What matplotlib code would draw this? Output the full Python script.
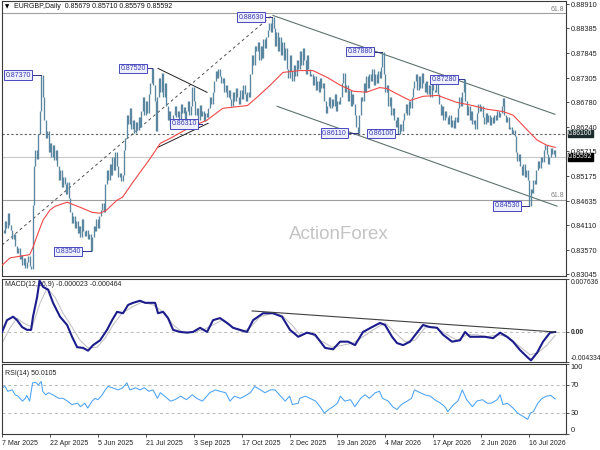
import numpy as np
import matplotlib.pyplot as plt
from matplotlib.transforms import blended_transform_factory

plt.rcParams['font.family'] = ['Liberation Sans', 'DejaVu Sans']
plt.rcParams['axes.unicode_minus'] = False

#### daily closes, in pips above 0.8000 ####
close_pips = [
    400, 395, 420, 405, 438, 412, 400, 380, 392, 365,
    350, 362, 338, 346, 325, 340, 318, 332, 345, 322, 316,
    455, 540, 575, 555, 610, 660, 737,
    690, 640, 600, 615, 570, 590, 560, 585, 552, 575,
    540, 510, 530, 495, 515, 500, 478, 505, 470,
    440, 415, 430, 405, 420, 395, 410, 385, 425, 398, 388,
    400, 380, 392, 354, 385, 410, 398, 425, 405, 430,
    445, 460, 440, 500, 530, 510, 545, 520, 560, 530, 570, 540, 515,
    525, 508, 520, 575, 600, 650, 630, 665,
    620, 640, 612, 635, 618, 645, 625, 660, 690, 650, 680, 655, 695,
    720, 752, 715, 680, 615, 690, 730, 700, 742, 690, 720,
    670, 640, 660, 625, 631,
    650, 670, 645, 660, 640, 675, 655, 668, 642, 660, 680, 650, 670, 712,
    680, 650, 665, 640, 672, 648, 660, 638, 655, 645,
    665, 690, 675, 700, 725, 745, 730, 751, 735, 720,
    730, 700, 715, 690, 705, 685,
    670, 700, 680, 710, 690, 675, 705, 685, 715, 695, 680, 700, 690,
    740, 780, 760, 800, 790, 810, 770, 800, 775, 815, 795, 820,
    835, 850, 830, 863, 840, 800, 830, 790, 820, 780, 810,
    770, 795, 750, 730, 780, 745, 725, 760, 735, 770, 750, 790,
    760, 795, 770, 740, 780, 750, 735,
    740, 715, 735, 705, 725, 700, 730, 710, 720,
    680, 655, 670, 690, 665, 685, 670, 695, 660, 680, 675, 690,
    720, 742, 700, 715, 680, 705, 670, 695, 675, 650, 625, 611,
    650, 690, 680, 720, 700, 735, 710, 740,
    725, 750, 715, 740, 720, 745, 730, 755, 788,
    740, 700, 715, 670, 690, 650, 665,
    640, 625, 645, 610, 630, 615, 640,
    655, 675, 650, 680, 665, 690, 710,
    725, 740, 705, 735, 710, 742, 720,
    700, 725, 695, 715, 690, 720, 705, 700, 722, 695,
    675, 650, 670, 640, 660, 645,
    630, 650, 625, 640, 622, 645, 635,
    665, 690, 670, 700, 728,
    680, 650, 670, 640, 660, 630, 640, 620,
    655, 675, 660, 670,
    645, 630, 655, 635, 650, 628, 645, 632,
    650, 640, 660, 645, 655, 670, 688,
    650, 635, 645, 620, 625, 610, 618, 605,
    570, 550, 565, 540, 520, 545, 515, 530, 510,
    453, 490, 480, 510, 500,
    530, 550, 535, 560, 548, 575, 585, 565, 545, 560,
    578, 565, 575, 559.2]

#### moving average (red), sampled ####
ma_idx = [0, 5.5, 19, 21.3, 24.8, 28.2, 33, 36.5, 44.8, 53.7, 62, 67.5, 72, 79, 83, 90,
          102, 109, 116, 129.5, 141, 152, 169, 175.6, 184.6, 193.5, 205, 214, 224, 233,
          242, 251, 260, 265, 274, 281, 290, 300, 313, 324, 334, 345, 352, 362, 368.5,
          375, 381]
ma_pips = [324, 340, 347, 363, 394, 422, 444, 452, 461, 450, 439, 437, 444, 465, 472, 504,
           556, 589, 600, 624, 639, 665, 671, 689, 715, 743, 747, 747, 732, 715,
           702, 700, 710, 708, 693, 682, 691, 693, 678, 671, 663, 658, 650, 617, 596,
           585, 580]

#### MACD main / signal, units of 1e-4 ####
macd_idx = [0, 3.4, 7.6, 10.3, 13.8, 17.2, 20, 21.3, 24.1, 25.8, 28.2, 31.7, 35.1, 39.9,
            44.8, 48.2, 51.7, 55.8, 59.2, 62.7, 67.5, 72.3, 75.8, 79.2, 83.3, 86.8, 90.2,
            95, 98.5, 101.9, 105.4, 107.4, 110.9, 114.3, 117.8, 122.6, 127.4, 131.5, 136.4,
            141.2, 145.3, 150.1, 155, 159.1, 163.9, 168.7, 172.9, 179.8, 186.6, 192.8,
            198.3, 204, 210, 215.6, 222.5, 228, 232.8, 238.3, 243.1, 248.6, 254.8, 260.3,
            263.8, 268.6, 272, 276.2, 281, 285.8, 289.9, 294.8, 299.6, 303.7, 309.9, 315.4,
            318.9, 322.3, 327.1, 332.6, 338.2, 343, 347.8, 351.9, 356.7, 361.6, 364.3,
            368.5, 372.6, 377.4, 381]
macd_e4 = [0, 17, 22, 17, 7, 3, 3, 22, 50, 74, 65, 61, 42, 22,
           10, -7, -22, -23, -27, -19, -12, 3, 17, 29, 27, 39, 42,
           45, 42, 42, 42, 27, 29, 20, 3, 0, -1, 0, 6,
           0, 17, 20, 13, 6, 3, 0, 17, 27, 27, 22,
           3, -7, -1, -4, -23, -25, -14, -14, -19, 0, 7, 13,
           10, -7, -16, -19, -14, -1, 10, 7, 6, -4, -14, -12,
           0, -7, -7, -7, -9, -1, -7, -14, -26, -36, -41,
           -30, -14, -1, 0]
sig_idx = [0, 5.5, 10.3, 14.5, 20.7, 26.2, 31, 36.5, 42, 48.2, 53.7, 59.2, 65.4, 70.9,
           76.4, 82.6, 89.5, 96.4, 104, 112.3, 117.8, 124, 131.5, 138.4, 145.3, 151.5,
           158.4, 165.3, 170.8, 177.7, 186, 192.8, 199.7, 205.2, 212.1, 219, 227.3, 234.8,
           241.7, 248.6, 255.5, 263.8, 270.7, 277.5, 284.4, 291.3, 298.2, 306.5, 313.4,
           320.2, 327.1, 334, 341.6, 348.5, 355.4, 363.6, 369.1, 375.3, 381]
sig_e4 = [-16, 6, 20, 13, 7, 42, 63, 50, 27, 7, -12, -23, -22, -9,
          10, 27, 36, 43, 39, 27, 10, 0, 0, 3, 10, 17,
          7, 0, 6, 22, 27, 24, 10, -4, -1, -12, -22, -19,
          -16, -7, 3, 13, -1, -14, -12, 6, 7, -4, -12,
          -4, -4, -7, -4, -7, -19, -33, -30, -19, -5]

#### RSI(14) ####
rsi_idx = [0, 2, 4, 7, 9, 11, 14, 16, 17, 19, 21, 23, 25, 27, 28, 30, 32, 35, 39, 42,
           45, 48, 52, 54, 57, 59, 62, 64, 66, 69, 71, 73, 76, 80, 83, 86, 88, 92, 95, 98,
           101, 104, 107, 109, 112, 116, 119, 123, 127, 131, 134, 138, 141, 143, 147, 150,
           154, 157, 160, 164, 167, 171, 174, 178, 181, 185, 188, 191, 195, 198, 200, 204,
           205, 209, 212, 216, 219, 222, 225, 228, 231, 233, 236, 240, 243, 247, 250, 253,
           257, 260, 262, 266, 269, 272, 275, 279, 282, 284, 288, 291, 295, 298, 302, 305,
           307, 311, 314, 317, 320, 324, 327, 331, 334, 337, 341, 343, 345, 348, 352, 355,
           359, 362, 364, 366, 369, 372, 375, 378, 381]
rsi_val = [66, 68, 61, 63, 56, 54, 47, 51, 55, 47, 73, 74, 70, 75, 61, 56, 59, 56, 51, 51,
           47, 42, 44, 39, 44, 37, 47, 51, 49, 56, 63, 68, 66, 63, 66, 73, 63, 66, 63, 66,
           61, 63, 51, 59, 54, 47, 49, 54, 49, 56, 51, 47, 54, 59, 63, 61,
           59, 47, 54, 51, 54, 59, 68, 63, 59, 63, 63, 56, 47, 54, 42, 44,
           51, 54, 51, 47, 39, 30, 35, 39, 44, 54, 47, 49, 39, 51, 56, 51,
           59, 61, 51, 47, 39, 35, 42, 47, 51, 63, 59, 56, 54, 49, 44, 39,
           32, 42, 47, 63, 49, 39, 47, 49, 44, 44, 49, 56, 42, 44, 37, 30,
           25, 21, 30, 32, 44, 51, 54, 55, 50]

#### axis labels ####
price_ticks = [0.88910, 0.88385, 0.87845, 0.87305, 0.86780, 0.86240,
               0.85715, 0.85175, 0.84635, 0.84110, 0.83570, 0.83045]
date_idx = [0, 33, 66, 99, 132, 165, 198, 231, 264, 297, 330, 363]
date_labels = ['7 Mar 2025', '22 Apr 2025', '5 Jun 2025', '21 Jul 2025', '3 Sep 2025',
               '17 Oct 2025', '2 Dec 2025', '19 Jan 2026', '4 Mar 2026', '17 Apr 2026',
               '2 Jun 2026', '16 Jul 2026']

#### swing labels: text, price, box right (bar idx), bar idx ####
swing_text = ['0.87370', '0.87520', '0.83540', '0.86310', '0.88630',
              '0.87880', '0.86110', '0.86100', '0.87280', '0.84530']
swing_price = [0.87370, 0.87520, 0.83540, 0.86310, 0.88630,
               0.87880, 0.86110, 0.86100, 0.87280, 0.84530]
swing_box = [20.7, 99.9, 55.1, 135, 181.1, 256.2, 238.3, 270.7, 314, 357.4]
swing_bar = [27, 103, 61, 138, 186, 262, 245, 273, 318, 363]

#### drawn lines (bar idx, price) ####
rise_line = ([0, 185], [0.83679, 0.88645])
tri_upper = ([107.4, 141.2], [0.87517, 0.86997])
tri_lower = ([107.4, 141.9], [0.85804, 0.86324])
chan_upper = ([186.6, 380.8], [0.88667, 0.86520])
chan_lower = ([189.4, 382.2], [0.86693, 0.84524])
macd_trend = ([172.2, 380.8], [0.00303, 0.0])
fib_top = 0.88710
fib_low = 0.84655
level_dot = 0.86100
last_price = 0.85592

closes = 0.8 + np.array(close_pips) / 1e4
opens = np.r_[closes[0], closes[:-1]]
idx = np.arange(len(closes))
ma = 0.8 + np.array(ma_pips) / 1e4
macd = np.array(macd_e4) * 1e-4
sig = np.array(sig_e4) * 1e-4

fig = plt.figure(figsize=(6, 4.5), dpi=100)
ax = fig.add_axes([0.0025, 0.38667, 0.9408, 0.6122])
axm = fig.add_axes([0.0025, 0.19556, 0.9408, 0.18444], sharex=ax)
axr = fig.add_axes([0.0025, 0.03556, 0.9408, 0.15556], sharex=ax)

for a in (ax, axm, axr):
    a.yaxis.tick_right()
    for s in a.spines.values():
        s.set_color('#3a3a3a')
        s.set_linewidth(0.8)
    a.tick_params(axis='y', direction='out', length=2, width=0.6, pad=1.2,
                  labelsize=5.3, color='#333333', labelcolor='#222222')
for a in (ax, axm):
    a.tick_params(axis='x', bottom=False, labelbottom=False)

#### main price panel ####
ax.set_xlim(-0.4, 388.4)
ax.set_ylim(0.83006, 0.88992)
ax.axhline(fib_top, color='#a0a0a0', lw=0.8)
ax.axhline(fib_low, color='#a0a0a0', lw=0.8)
ax.axhline(last_price, color='#c8c8c8', lw=0.8)
ax.axhline(level_dot, color='#606060', lw=0.8, ls=(0, (2, 2)))
ax.plot(*rise_line, color='#505050', lw=0.7, ls=(0, (3, 3)))
ax.plot(*tri_upper, color='#202020', lw=0.7)
ax.plot(*tri_lower, color='#202020', lw=0.7)
ax.plot(*chan_upper, color='#5f7270', lw=0.8)
ax.plot(*chan_lower, color='#5f7270', lw=0.8)

ax.vlines(idx, np.minimum(opens, closes), np.maximum(opens, closes),
          color='#5a869f', lw=0.95, zorder=3)
ax.plot(ma_idx, ma, color='#f04848', lw=0.8, zorder=4)

for t, p, bx, br in zip(swing_text, swing_price, swing_box, swing_bar):
    ax.plot([bx, br], [p, p], color='#30308a', lw=0.7, zorder=5)
    ax.text(bx - 0.8, p, t, ha='right', va='center', fontsize=5, color='#3a3ab0', zorder=6,
            bbox=dict(boxstyle='square,pad=0.18', fc='#eef0ff', ec='#4848c0', lw=0.7))

tr = blended_transform_factory(ax.transAxes, ax.transData)
ax.text(0.997, fib_top + 0.0002, '61.8', transform=tr, ha='right', va='bottom',
        fontsize=5, color='#808080')
ax.text(0.997, fib_low + 0.0002, '61.8', transform=tr, ha='right', va='bottom',
        fontsize=5, color='#808080')
ax.text(1.004, level_dot, '0.86100', transform=tr, ha='left', va='center', fontsize=4.9,
        color='white', zorder=10, clip_on=False,
        bbox=dict(boxstyle='square,pad=0.05', fc='#1c2c2c', ec='#1c2c2c'))
ax.text(1.004, last_price, '0.85592', transform=tr, ha='left', va='center', fontsize=4.9,
        color='white', zorder=10, clip_on=False,
        bbox=dict(boxstyle='square,pad=0.05', fc='black', ec='black'))

ax.set_yticks(price_ticks)
ax.set_yticklabels(['%.5f' % v for v in price_ticks])

ax.text(0.006, 0.977, '\u25bc', transform=ax.transAxes, fontsize=4, va='center',
        family=['DejaVu Sans'])
ax.text(0.022, 0.977, 'EURGBP,Daily  0.85679 0.85710 0.85579 0.85592',
        transform=ax.transAxes, fontsize=5, va='center', color='#111111')
ax.text(0.597, 0.151, 'ActionForex', transform=ax.transAxes, fontsize=13.5,
        color='#c4c4c4', ha='center', va='center', zorder=1)

#### MACD panel ####
axm.set_ylim(-0.004334, 0.007636)
axm.axhline(0, color='#b8b8b8', lw=0.7, ls=(0, (3, 3)))
axm.text(0.006, 0.93, 'MACD(12,26,9) -0.000023 -0.000464', transform=axm.transAxes,
         fontsize=5, va='center', color='#222222', zorder=1)
axm.plot(sig_idx, sig, color='#c4c4c4', lw=0.8, zorder=2)
axm.plot(macd_idx, macd, color='#1c1c8c', lw=1.5, zorder=3)
axm.plot(*macd_trend, color='#404040', lw=0.8, zorder=4)
axm.set_yticks([0.007636, 0.0, -0.004334])
axm.set_yticklabels(['0.007636', '0.00', '-0.004334'])
axm.tick_params(axis='y', labelsize=4.9)
ml = axm.get_yticklabels()
ml[0].set_verticalalignment('top')
ml[1].set_fontweight('bold')
ml[2].set_verticalalignment('bottom')

#### RSI panel ####
axr.set_ylim(0, 100)
axr.axhline(70, color='#b8b8b8', lw=0.7, ls=(0, (3, 3)))
axr.axhline(30, color='#b8b8b8', lw=0.7, ls=(0, (3, 3)))
axr.plot(rsi_idx, rsi_val, color='#4aa2f5', lw=0.75)
axr.text(0.006, 0.86, 'RSI(14) 50.0105', transform=axr.transAxes, fontsize=5,
         va='center', color='#222222')
axr.set_yticks([100, 70, 30, 0])
axr.set_yticklabels(['100', '70', '30', '0'])
rl = axr.get_yticklabels()
rl[0].set_verticalalignment('top')
rl[3].set_verticalalignment('bottom')

axr.set_xticks(date_idx)
axr.set_xticklabels(date_labels, ha='left', fontsize=5, color='#222222')
axr.tick_params(axis='x', direction='out', length=2.5, width=0.6, pad=1.5, color='#333333')

fig.savefig('out.png', dpi=100)
